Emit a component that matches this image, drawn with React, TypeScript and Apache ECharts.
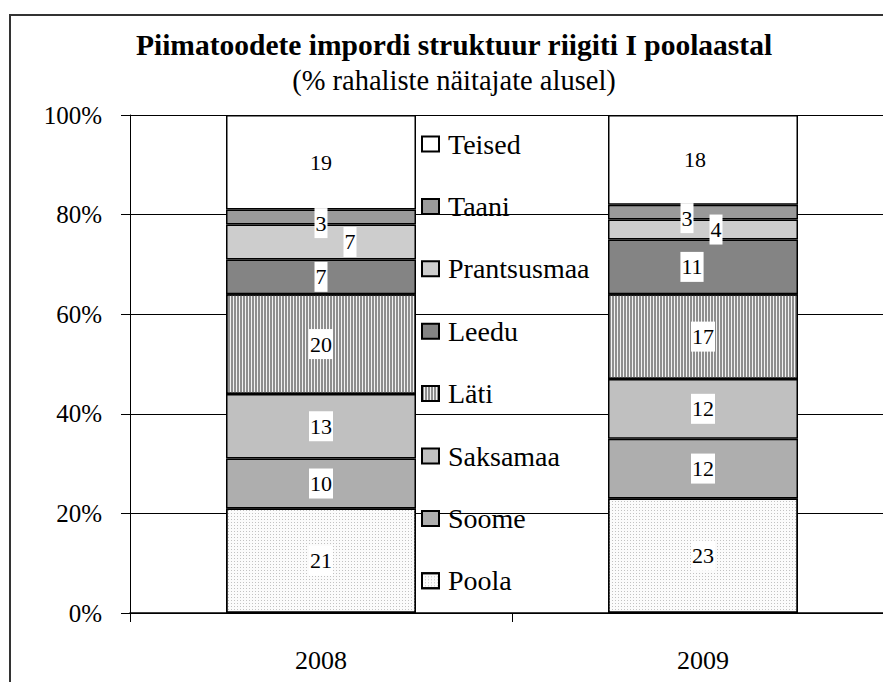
import React, { useEffect, useRef } from "react";
import * as echarts from "echarts";

const years = ["2008", "2009"];
const seriesNames = ["Poola", "Soome", "Saksamaa", "Läti", "Leedu", "Prantsusmaa", "Taani", "Teised"];
const poola = [21, 23];
const soome = [10, 12];
const saksamaa = [13, 12];
const lati = [20, 17];
const leedu = [7, 11];
const prantsusmaa = [7, 4];
const taani = [3, 3];
const teised = [19, 18];
const yTicks = [0, 20, 40, 60, 80, 100];

const FONT = "Liberation Serif";

export default function App() {
  const ref = useRef<HTMLDivElement>(null);
  useEffect(() => {
    if (!ref.current) return;
    const chart = echarts.init(ref.current, null, { renderer: "svg" });
    const values = [poola, soome, saksamaa, lati, leedu, prantsusmaa, taani, teised];
    const styles: any[] = [
      { color: "#fbfbfb", decal: { symbol: "rect", symbolSize: 1, dashArrayX: [1, 2], dashArrayY: [1, 2], color: "#c2c2c2" } },
      { color: "#aeaeae" },
      { color: "#c0c0c0" },
      { color: "#f2f2f2", decal: { symbol: "rect", symbolSize: 1, dashArrayX: [2, 1], dashArrayY: [4, 0], color: "#8e8e8e" } },
      { color: "#848484" },
      { color: "#cdcdcd" },
      { color: "#9a9a9a" },
      { color: "#ffffff" },
    ];
    const offsets: Record<string, number[][]> = {
      Taani: [[0, 6], [-16, 6]],
      Prantsusmaa: [[29, 0], [13, 0]],
      Leedu: [[0, 0], [-11, 0]],
      Teised: [[0, 0], [-8, 0]],
    };
    const series = seriesNames.map((name, i) => ({
      name,
      type: "bar",
      stack: "total",
      barWidth: 190,
      itemStyle: { ...styles[i], borderColor: "#000", borderWidth: 1.5 },
      label: {
        show: true,
        position: "inside",
        fontFamily: FONT,
        fontSize: 22,
        color: "#000",
        backgroundColor: name === "Teised" ? "transparent" : "#fff",
        padding: [4, 1, 4, 1],
      },
      data: values[i].map((v, j) => {
        const off = offsets[name] ? offsets[name][j] : [0, 0];
        return { value: v, label: { offset: off } };
      }),
    }));
    chart.setOption({
      animation: false,
      backgroundColor: "#fff",
      textStyle: { fontFamily: FONT },
      graphic: [
        {
          type: "rect",
          shape: { x: 10, y: 15, width: 940, height: 700 },
          style: { fill: "none", stroke: "#333", lineWidth: 2 },
          z: 100,
        },
        {
          type: "text",
          x: 454,
          y: 45,
          style: {
            text: "Piimatoodete impordi struktuur riigiti I poolaastal",
            fontFamily: FONT,
            fontWeight: "bold",
            fontSize: 29.5,
            fill: "#000",
            textAlign: "center",
            textVerticalAlign: "middle",
          },
        },
        {
          type: "text",
          x: 454,
          y: 80,
          style: {
            text: "(% rahaliste näitajate alusel)",
            fontFamily: FONT,
            fontSize: 28.5,
            fill: "#000",
            textAlign: "center",
            textVerticalAlign: "middle",
          },
        },
      ],
      legend: {
        orient: "vertical",
        left: 416,
        top: 125,
        icon: "rect",
        itemWidth: 17,
        itemHeight: 15,
        itemGap: 34.4,
        data: [...seriesNames].reverse(),
        textStyle: { fontFamily: FONT, fontSize: 28, color: "#000", lineHeight: 28, padding: [0, 0, 0, 4] },
      },
      grid: { left: 130, top: 115, width: 764, height: 498 },
      xAxis: {
        type: "category",
        data: years,
        axisLine: { lineStyle: { color: "#000", width: 1.5 } },
        axisTick: { show: true, length: 9, lineStyle: { color: "#000" } },
        axisLabel: { fontFamily: FONT, fontSize: 26, color: "#000", margin: 34 },
      },
      yAxis: {
        type: "value",
        min: yTicks[0],
        max: yTicks[yTicks.length - 1],
        interval: 20,
        axisLine: { show: true, lineStyle: { color: "#000", width: 1 } },
        axisTick: { show: true, length: 9, lineStyle: { color: "#000" } },
        axisLabel: { fontFamily: FONT, fontSize: 25, color: "#000", margin: 28, formatter: "{value}%" },
        splitLine: { lineStyle: { color: "#000", width: 1 } },
      },
      series,
    });
    return () => chart.dispose();
  }, []);
  return (
    <div style={{ position: "absolute", left: 0, top: 0, width: 883, height: 682, overflow: "hidden" }}>
      <div ref={ref} style={{ width: 940, height: 682 }} />
    </div>
  );
}
